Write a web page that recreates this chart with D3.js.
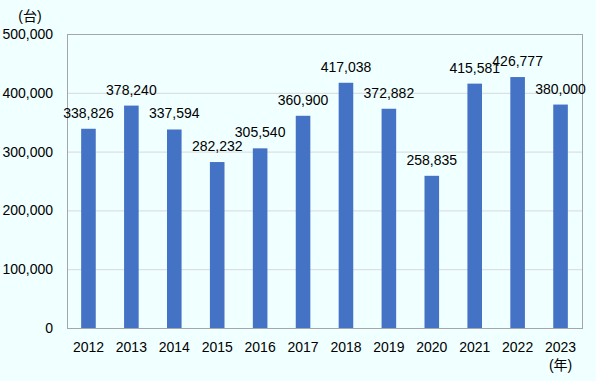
<!DOCTYPE html>
<html>
<head>
<meta charset="utf-8">
<script src="https://cdn.jsdelivr.net/npm/d3@7"></script>
<style>
  body { margin: 0; background: #f0ffff; }
  svg { display: block; font-family: "Liberation Sans", Arial, "Noto Sans CJK JP", sans-serif; }
</style>
</head>
<body>
<svg id="chart"></svg>
<script>
// data
const years = ["2012", "2013", "2014", "2015", "2016", "2017", "2018", "2019", "2020", "2021", "2022", "2023"];
const units = [338826, 378240, 337594, 282232, 305540, 360900, 417038, 372882, 258835, 415581, 426777, 380000];
const yTicks = [0, 100000, 200000, 300000, 400000, 500000];

const width = 596;
const height = 381;
const marginTop = 34;
const marginRight = 14;
const marginBottom = 53;
const marginLeft = 67;

const svg = d3.select("#chart").attr("width", width).attr("height", height);

svg.append("rect").attr("width", width).attr("height", height).attr("fill", "#f0ffff");

const x = d3.scaleBand().domain(years).range([marginLeft, width - marginRight]).paddingInner(0.66).paddingOuter(0.33);
const y = d3.scaleLinear().domain([0, 500000]).range([height - marginBottom, marginTop]);

const fmt = d3.format(",");

// gridlines
svg.append("g")
  .selectAll("line")
  .data(yTicks.slice(1, -1))
  .enter()
  .append("line")
    .attr("x1", marginLeft)
    .attr("x2", width - marginRight)
    .attr("y1", d => y(d) + 0.5)
    .attr("y2", d => y(d) + 0.5)
    .attr("stroke", "#d9d9d9");

// plot frame
svg.append("rect")
  .attr("x", marginLeft + 0.5)
  .attr("y", marginTop + 0.5)
  .attr("width", width - marginRight - marginLeft)
  .attr("height", height - marginBottom - marginTop)
  .attr("fill", "none")
  .attr("stroke", "#a6a6a6");

// y axis labels
svg.append("g")
  .selectAll("text")
  .data(yTicks)
  .enter()
  .append("text")
    .attr("x", 53)
    .attr("y", d => y(d))
    .attr("dy", "0.35em")
    .attr("text-anchor", "end")
    .attr("font-size", 14)
    .attr("fill", "#000")
    .text(d => fmt(d));

// bars
svg.append("g")
  .selectAll("rect")
  .data(units)
  .enter()
  .append("rect")
    .attr("x", (d, i) => x(years[i]))
    .attr("y", d => y(d))
    .attr("width", x.bandwidth())
    .attr("height", d => y(0) - y(d))
    .attr("fill", "#4472c4");

// value labels
svg.append("g")
  .selectAll("text")
  .data(units)
  .enter()
  .append("text")
    .attr("x", (d, i) => x(years[i]) + x.bandwidth() / 2)
    .attr("y", d => y(d) - 11)
    .attr("text-anchor", "middle")
    .attr("font-size", 14)
    .attr("fill", "#000")
    .text(d => fmt(d));

// x labels
svg.append("g")
  .selectAll("text")
  .data(years)
  .enter()
  .append("text")
    .attr("x", d => x(d) + x.bandwidth() / 2)
    .attr("y", 352)
    .attr("text-anchor", "middle")
    .attr("font-size", 14)
    .attr("fill", "#000")
    .text(d => d);

svg.append("text")
  .attr("x", x("2023") + x.bandwidth() / 2)
  .attr("y", 370)
  .attr("text-anchor", "middle")
  .attr("font-size", 14)
  .text("(年)");

svg.append("text")
  .attr("x", 30)
  .attr("y", 21)
  .attr("text-anchor", "middle")
  .attr("font-size", 14)
  .text("(台)");
</script>
</body>
</html>
